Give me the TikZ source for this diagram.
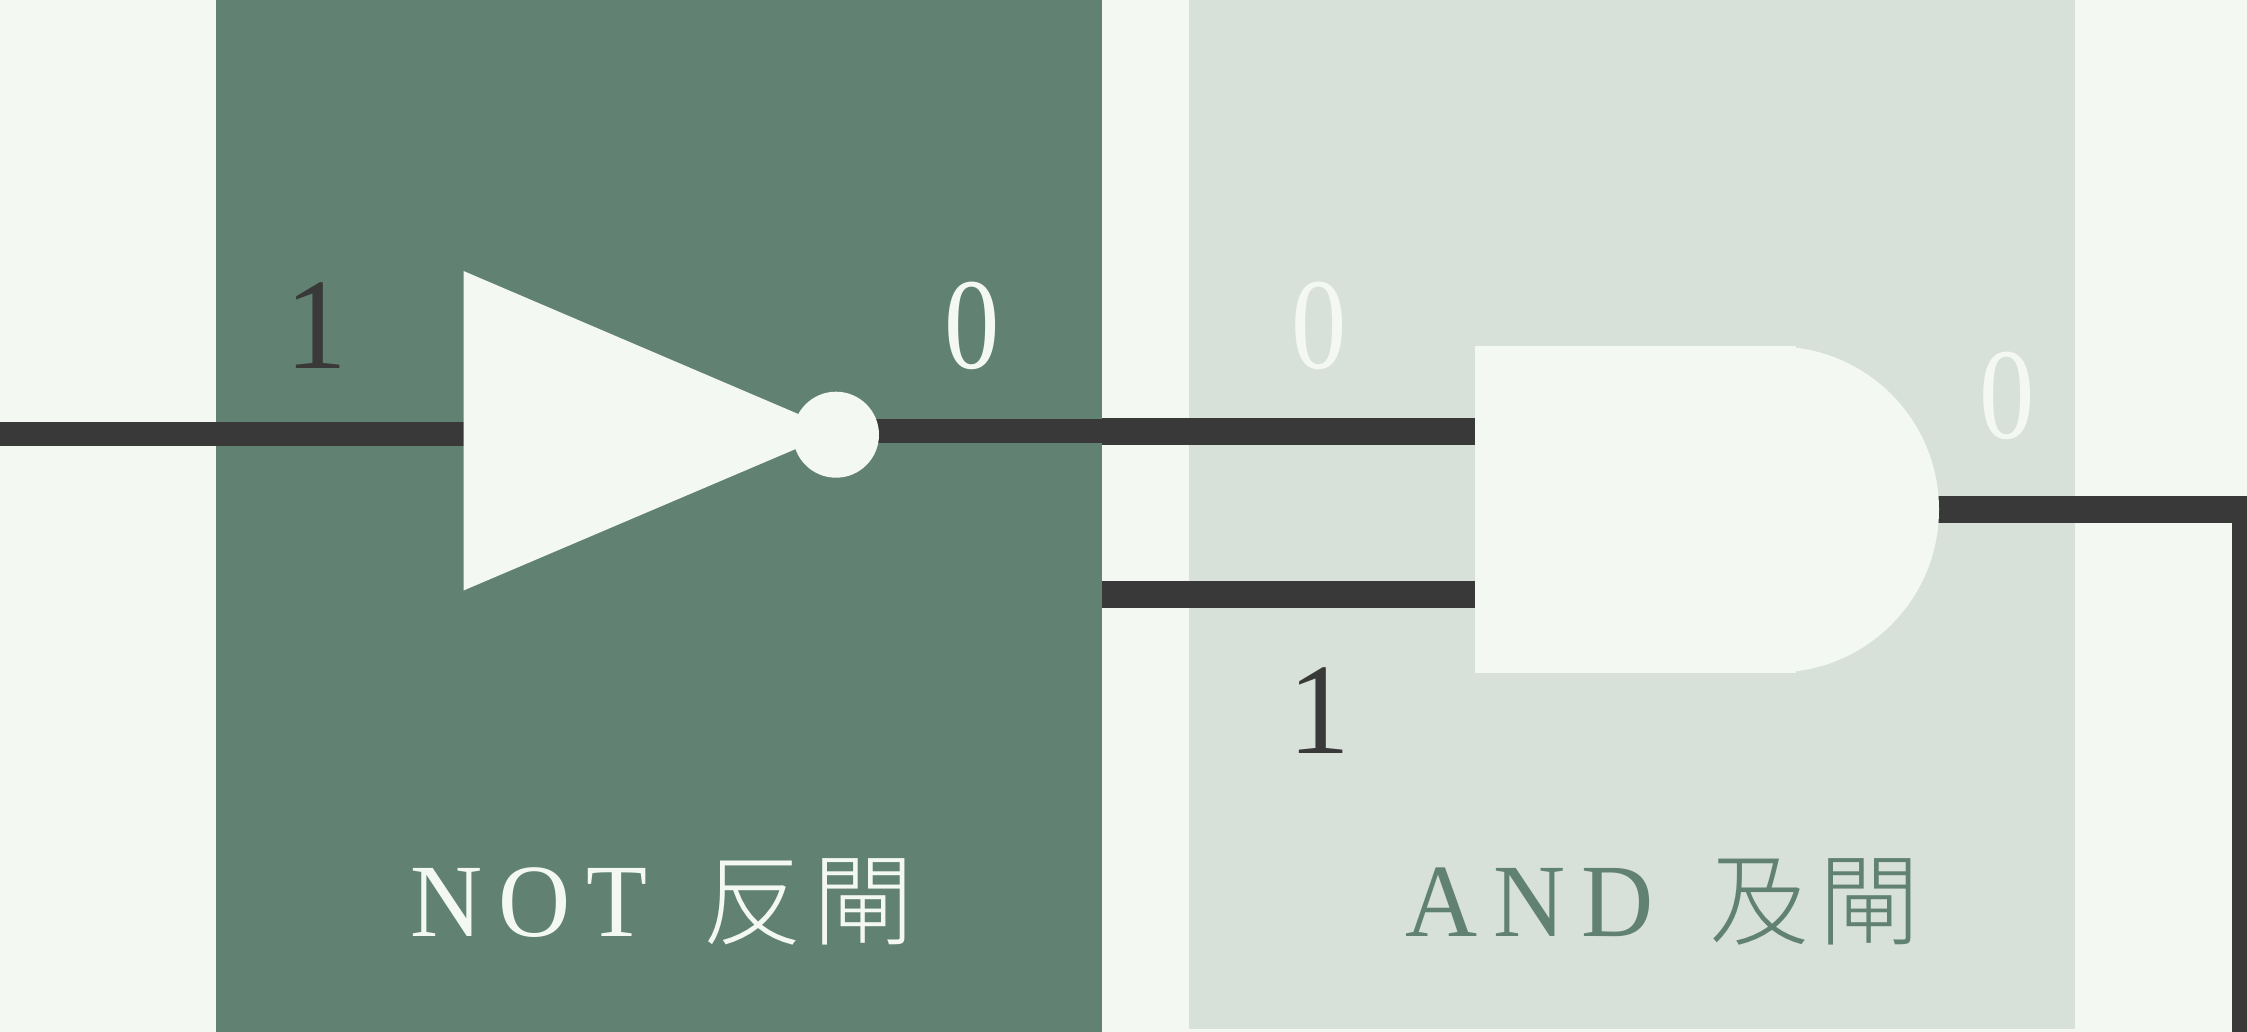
\documentclass[tikz,border=0pt]{standalone}
\usepackage{fontspec}
\newfontfamily\cjk{Noto Sans CJK TC Light}
\newfontfamily\lab[LetterSpace=16]{Liberation Serif}
\newfontfamily\num{Liberation Serif}
\definecolor{bgc}{HTML}{F3F8F2}
\definecolor{grn}{HTML}{618272}
\definecolor{pale}{HTML}{D7E1D9}
\definecolor{ink}{HTML}{393939}
\tikzset{
  panel/.style={fill=#1,draw=none},
  gatefill/.style={fill=bgc,draw=none},
  wirethin/.style={draw=ink,line width=24pt},
  wirethick/.style={draw=ink,line width=27pt},
  digit/.style={font=\num\fontsize{130}{130}\selectfont,inner sep=0pt,anchor=base,text=#1},
  labtext/.style={inner sep=0pt,anchor=base west,text=#1}
}
\begin{document}
\begin{tikzpicture}[x=1pt,y=-1pt]
\useasboundingbox (0,0) rectangle (2247,1032);
\fill[bgc] (0,0) rectangle (2247,1032);
\path[panel=grn] (216,0) rectangle (1102,1032);
\path[panel=pale] (1189,0) rectangle (2075,1029);
% named anchors
\coordinate (inL) at (0,434.3);
\coordinate (notIn) at (463.5,434.3);
\coordinate (notOut) at (875,431.2);
\coordinate (midL) at (1102,431.2);
\coordinate (midR) at (1101.5,431.5);
\coordinate (andA) at (1475,431.5);
\coordinate (inB) at (1101.5,594);
\coordinate (andB) at (1475,594);
\coordinate (andOut) at (1935,509.7);
\coordinate (outEnd) at (2255,509.7);
\coordinate (turn) at (2239.5,509.7);
\coordinate (downEnd) at (2239.5,1032);
\draw[wirethin] (inL) -- (notIn);
\draw[wirethin] (notOut) -- (midL);
\draw[wirethick] (midR) -- (andA);
\draw[wirethick] (inB) -- (andB);
\draw[wirethick] (andOut) -- (outEnd);
\draw[draw=ink,line width=15.5pt] (turn) -- (downEnd);
% NOT gate
\path[gatefill] (463.5,271) -- (838,431) -- (463.5,590.5) -- cycle;
\path[gatefill] (836,434.7) circle (43);
% AND gate
\path[gatefill] (1475,345.7) rectangle (1796,672.7);
\path[gatefill] (1776,509.5) circle (163);
% digits
\node[digit=ink] (d1) at (316,368) {\scalebox{.95}[1]{1}};
\node[digit=bgc] (d2) at (972,369) {\scalebox{.85}[1]{0}};
\node[digit=bgc] (d3) at (1319,369) {\scalebox{.85}[1]{0}};
\node[digit=ink] (d4) at (1319,753) {\scalebox{.95}[1]{1}};
\node[digit=bgc] (d5) at (2007,438) {\scalebox{.85}[1]{0}};
% labels
\node[labtext=bgc] (l1) at (410,936.5) {\scalebox{.96}[1]{\fontsize{104}{104}\selectfont\lab NOT}};
\node[labtext=bgc] (l2) at (702,937) {\fontsize{100}{100}\selectfont\cjk 反\kern11pt閘};
\node[labtext=grn] (l3) at (1405,936.5) {\scalebox{.96}[1]{\fontsize{104}{104}\selectfont\lab AND}};
\node[labtext=grn] (l4) at (1709,937) {\fontsize{100}{100}\selectfont\cjk 及\kern10pt閘};
\end{tikzpicture}
\end{document}
